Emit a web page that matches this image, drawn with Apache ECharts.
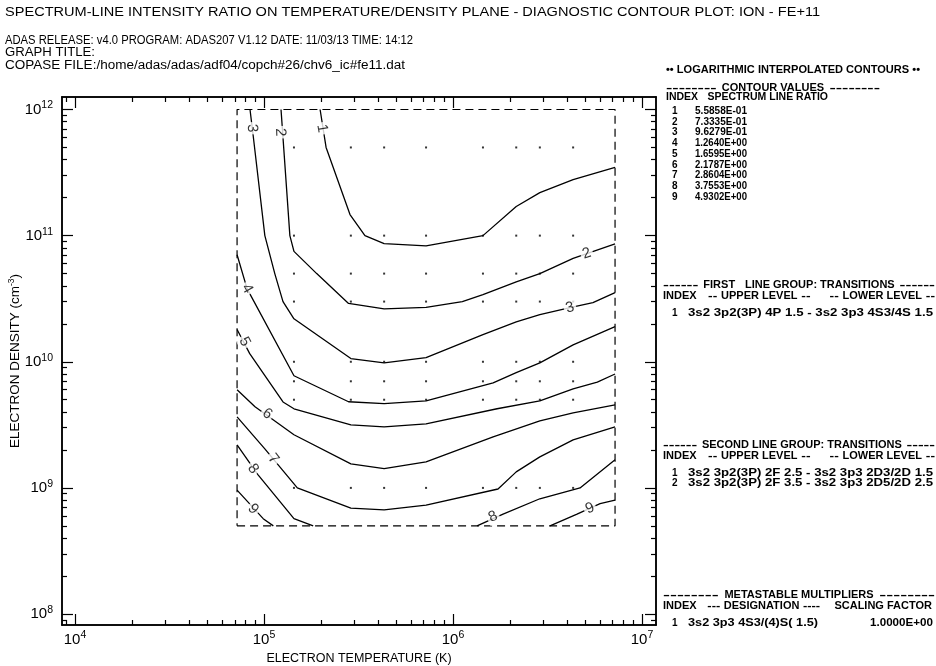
<!DOCTYPE html>
<html>
<head>
<meta charset="utf-8">
<title>ADAS207 contour plot</title>
<script src="https://cdn.jsdelivr.net/npm/echarts@6/dist/echarts.min.js"></script>
<style>
  html, body { margin: 0; padding: 0; background: #fff; }
  #chart { width: 936px; height: 666px; }
</style>
</head>
<body>
<div id="chart"></div>
<script>
// temperature (K) and density (cm-3) grid of the calculation
var tempGrid = [7.2e4, 1.44e5, 2.88e5, 4.32e5, 7.2e5, 1.44e6, 2.16e6, 2.88e6, 4.32e6, 7.2e6];
var densGrid = [5e8, 1e9, 5e9, 7e9, 1e10, 3e10, 5e10, 1e11, 5e11, 1e12];

// axis decades (exponents) and minor tick multipliers
var xTickExp = [4, 5, 6, 7];
var yTickExp = [8, 9, 10, 11, 12];
var minorMult = [2, 3, 4, 5, 6, 7, 8, 9];

// contour lines, [Te, Ne] pairs; some levels come in pieces
var contour1 = [[[1.98e5, 1e12], [2.13e5, 5e11], [2.85e5, 1.47e11], [3.42e5, 1e11], [4.32e5, 8.65e10], [7.2e5, 8.3e10],
  [1.44e6, 1e11], [2.16e6, 1.7e11], [2.88e6, 2.19e11], [4.32e6, 2.78e11], [7.2e6, 3.47e11]]];
var contour2 = [[[1.23e5, 1e12], [1.37e5, 1e11], [1.44e5, 7.5e10], [1.9e5, 5e10], [2.8e5, 2.9e10], [4.32e5, 2.63e10],
  [7.2e5, 2.7e10], [1.12e6, 3e10], [1.44e6, 3.4e10], [2.16e6, 4.3e10], [2.88e6, 5e10], [4.32e6, 6.6e10], [7.2e6, 8.6e10]]];
var contour3 = [[[8.43e4, 1e12], [8.75e4, 6.3e11], [1.01e5, 1e11], [1.14e5, 5e10], [1.26e5, 3e10], [1.44e5, 2.19e10],
  [2.88e5, 1.06e10], [4.32e5, 9.8e9], [7.2e5, 1.08e10], [1.44e6, 1.64e10], [2.16e6, 2.07e10], [2.88e6, 2.36e10],
  [4.16e6, 2.69e10], [5.5e6, 2.94e10], [7.2e6, 3.53e10]]];
var contour4 = [[[7.2e4, 7.06e10], [8.13e4, 3.8e10], [1.44e5, 7.75e9], [2.8e5, 4.82e9], [4.32e5, 4.65e9], [7.2e5, 4.9e9],
  [1.63e6, 6.8e9], [2.16e6, 8.2e9], [2.88e6, 9.8e9], [4.32e6, 1.36e10], [7.2e6, 1.9e10]]];
var contour5 = [[[7.2e4, 1.8e10], [8.4e4, 1.16e10], [1.26e5, 4.8e9], [1.44e5, 4.24e9], [2.88e5, 3.16e9], [4.32e5, 3.05e9],
  [7.2e5, 3.22e9], [1.71e6, 4.24e9], [2.88e6, 4.9e9], [4.32e6, 6.1e9], [5.8e6, 6.9e9], [7.2e6, 8.0e9]]];
var contour6 = [[[7.2e4, 6.0e9], [8.96e4, 4.4e9], [1.44e5, 2.64e9], [2.88e5, 1.55e9], [4.32e5, 1.42e9], [7.2e5, 1.61e9],
  [1.63e6, 2.54e9], [2.88e6, 3.4e9], [4.32e6, 3.94e9], [7.2e6, 4.56e9]]];
var contour7 = [[[7.2e4, 3.66e9], [1.01e5, 2.04e9], [1.5e5, 1e9], [2.88e5, 6.9e8], [4.32e5, 6.7e8], [7.2e5, 7.3e8],
  [1.73e6, 9.8e8], [2.16e6, 1.34e9], [2.88e6, 1.76e9], [4.32e6, 2.4e9], [7.2e6, 3.05e9]]];
var contour8 = [[[7.2e4, 2.19e9], [9.3e4, 1.27e9], [1.44e5, 5.7e8], [1.82e5, 5e8]],
  [[1.34e6, 5e8], [1.84e6, 6.2e8], [2.88e6, 8.2e8], [4.7e6, 1e9], [7.2e6, 1.67e9]]];
var contour9 = [[[7.2e4, 9.6e8], [9.9e4, 5.7e8], [1.12e5, 5e8]],
  [[3.26e6, 5e8], [4.53e6, 6.2e8], [6.0e6, 7.5e8], [7.2e6, 8.0e8]]];
var contours = [contour1, contour2, contour3, contour4, contour5, contour6, contour7, contour8, contour9];

// contour level labels: [Te, Ne, level]
var levelLabels = [[2.03e5, 7.07e11, '1'], [1.22e5, 6.6e11, '2'], [8.65e4, 7.1e11, '3'], [5.1e6, 7.2e10, '2'],
  [4.16e6, 2.69e10, '3'], [8.13e4, 3.8e10, '4'], [7.9e4, 1.44e10, '5'], [1.04e5, 3.87e9, '6'], [1.12e5, 1.7e9, '7'],
  [8.75e4, 1.42e9, '8'], [8.75e4, 6.8e8, '9'], [1.63e6, 5.9e8, '8'], [5.3e6, 6.9e8, '9']];
var labelAngles = [-80, -88, -87, 18, 15, -61, -62, -36, -51, -55, -48, 25, 23];

// right-hand panel tables
var contourValues = ['5.5858E-01', '7.3335E-01', '9.6279E-01', '1.2640E+00', '1.6595E+00',
  '2.1787E+00', '2.8604E+00', '3.7553E+00', '4.9302E+00'];
var firstGroup = ['3s2 3p2(3P) 4P 1.5 - 3s2 3p3 4S3/4S 1.5'];
var secondGroup = ['3s2 3p2(3P) 2F 2.5 - 3s2 3p3 2D3/2D 1.5', '3s2 3p2(3P) 2F 3.5 - 3s2 3p3 2D5/2D 2.5'];
var metastables = [['3s2 3p3 4S3/(4)S( 1.5)', '1.0000E+00']];

var L = Math.log10;
var xMin = 3.931, xMax = 7.074, yMin = 7.913, yMax = 12.099;

function minorTicks(exps, lo, hi) {
  var out = [];
  for (var e = exps[0] - 1; e <= exps[exps.length - 1]; e++) {
    minorMult.forEach(function (m) {
      var v = L(m) + e;
      if (v > lo && v < hi) out.push(v);
    });
  }
  return out;
}
var xMinor = minorTicks(xTickExp, xMin, xMax);
var yMinor = minorTicks(yTickExp, yMin, yMax);

var FONT = 'Liberation Sans';
var black = '#000';
var powRich = {
  b: { fontSize: 15, fontFamily: FONT, color: black, lineHeight: 19 },
  s: { fontSize: 10.5, fontFamily: FONT, color: black, lineHeight: 11, verticalAlign: 'top' }
};

function axis(kind, gi, pos, min, max, ticks, len, withLabels) {
  var a = {
    type: 'value', gridIndex: gi, position: pos, min: min, max: max,
    axisLine: { show: true, onZero: false, lineStyle: { color: black, width: 1.5 } },
    axisTick: { show: true, inside: true, length: len, customValues: ticks, lineStyle: { color: black, width: 1.2 } },
    axisLabel: { show: false },
    splitLine: { show: false }
  };
  if (withLabels) {
    a.axisLabel = {
      show: true, customValues: ticks, margin: kind === 'x' ? 5 : 9,
      formatter: function (v) { return '{b|10}{s|' + Math.round(v) + '}'; },
      rich: powRich
    };
  }
  return a;
}

// four overlaid grids: major/minor ticks on bottom-left and top-right
var grids = [];
for (var g = 0; g < 4; g++) {
  grids.push({ left: 62, right: 280, top: 97, bottom: 41, containLabel: false, outerBoundsMode: 'none' });
}

var xAxes = [
  axis('x', 0, 'bottom', xMin, xMax, xTickExp, 11, true),
  axis('x', 1, 'bottom', xMin, xMax, xMinor, 5, false),
  axis('x', 2, 'top', xMin, xMax, xTickExp, 11, false),
  axis('x', 3, 'top', xMin, xMax, xMinor, 5, false)
];
var yAxes = [
  axis('y', 0, 'left', yMin, yMax, yTickExp, 11, true),
  axis('y', 1, 'left', yMin, yMax, yMinor, 5, false),
  axis('y', 2, 'right', yMin, yMax, yTickExp, 11, false),
  axis('y', 3, 'right', yMin, yMax, yMinor, 5, false)
];
xAxes[0].name = 'ELECTRON TEMPERATURE (K)';
xAxes[0].nameLocation = 'middle';
xAxes[0].nameGap = 27;
xAxes[0].nameMoveOverlap = false;
xAxes[0].nameTextStyle = { fontFamily: FONT, fontSize: 12.5, color: black };
yAxes[0].name = '{t|ELECTRON DENSITY (cm}{u|-3}{t|)}';
yAxes[0].nameLocation = 'middle';
yAxes[0].nameGap = 38;
yAxes[0].nameMoveOverlap = false;
yAxes[0].nameTextStyle = {
  rich: {
    t: { fontFamily: FONT, fontSize: 13.5, color: black, lineHeight: 17 },
    u: { fontFamily: FONT, fontSize: 8.5, color: black, lineHeight: 9, verticalAlign: 'top' }
  }
};

function toLog(p) { return [L(p[0]), L(p[1])]; }

var series = [];

// dashed outline of the calculated grid
var tLo = tempGrid[0], tHi = tempGrid[tempGrid.length - 1];
var nLo = densGrid[0], nHi = densGrid[densGrid.length - 1];
series.push({
  type: 'line', silent: true, symbol: 'none',
  data: [[tLo, nLo], [tHi, nLo], [tHi, nHi], [tLo, nHi], [tLo, nLo]].map(toLog),
  lineStyle: { color: black, width: 1.2, type: [8, 5] }
});

// interior grid points
var dots = [];
tempGrid.slice(1, -1).forEach(function (t) {
  densGrid.slice(1, -1).forEach(function (n) { dots.push([L(t), L(n)]); });
});
series.push({
  type: 'scatter', silent: true, symbol: 'rect', symbolSize: 2,
  itemStyle: { color: black }, data: dots
});

contours.forEach(function (c) {
  c.forEach(function (piece) {
    series.push({
      type: 'line', silent: true, symbol: 'none',
      data: piece.map(toLog),
      lineStyle: { color: black, width: 1.3 }
    });
  });
});

series.push({
  type: 'scatter', silent: true, symbolSize: 0, z: 5,
  data: levelLabels.map(function (d, i) {
    return { value: [L(d[0]), L(d[1])], name: d[2], label: { rotate: labelAngles[i] } };
  }),
  label: {
    show: true, position: 'inside', formatter: '{b}',
    fontFamily: FONT, fontSize: 15, color: black,
    backgroundColor: '#fff', padding: [0, 2]
  }
});

// header and right panel text, each line stretched to the width it takes in the original
var measure = document.createElement('canvas').getContext('2d');
var txt = [];
function fontOf(size, weight) { return (weight || 'normal') + ' ' + size + 'px "' + FONT + '"'; }
function textWidth(s, font) { measure.font = font; return measure.measureText(s).width; }
function put(x, y, s, font, sx) {
  txt.push({
    type: 'text', x: x, y: y, scaleX: sx, silent: true,
    style: { text: s, x: 0, y: 0, fill: black, font: font, textVerticalAlign: 'middle' }
  });
}
function T(x, y, s, size, weight, width) {
  var font = fontOf(size, weight);
  put(x, y, s, font, width ? width / textWidth(s, font) : 1);
}
// a line whose runs of dashes/spaces stretch while the words keep a fixed stretch
function H(x, y, s, size, weight, width, wordSx) {
  var font = fontOf(size, weight);
  wordSx = wordSx || 1.1;
  var parts = s.match(/[- ]+|[^- ]+(?: [^- ]+)*/g);
  var fixed = 0, flex = 0;
  parts.forEach(function (p) {
    var w = textWidth(p, font);
    if (/^[- ]+$/.test(p)) flex += w; else fixed += w * wordSx;
  });
  var flexSx = (width - fixed) / flex;
  parts.forEach(function (p) {
    var sx = /^[- ]+$/.test(p) ? flexSx : wordSx;
    put(x, y, p, font, sx);
    x += textWidth(p, font) * sx;
  });
}

T(5, 13, 'SPECTRUM-LINE INTENSITY RATIO ON TEMPERATURE/DENSITY PLANE - DIAGNOSTIC CONTOUR PLOT: ION - FE+11', 12.5, null, 815);
T(5, 41, 'ADAS RELEASE: v4.0 PROGRAM: ADAS207 V1.12 DATE: 11/03/13 TIME: 14:12', 12.5, null, 408);
T(5, 53, 'GRAPH TITLE:', 12.5, null, 90);
T(5, 66, 'COPASE FILE:/home/adas/adas/adf04/copch#26/chv6_ic#fe11.dat', 12.5, null, 400);

var P = 10, PB = 'bold';
T(666, 70, '\u2022\u2022 LOGARITHMIC INTERPOLATED CONTOURS \u2022\u2022', P, PB, 254);
H(666, 88, '-------- CONTOUR VALUES --------', P, PB, 214);
H(666, 97, 'INDEX    SPECTRUM LINE RATIO', P, PB, 162, 1.05);
contourValues.forEach(function (v, i) {
  T(672, 111 + i * 10.75, String(i + 1), P, PB);
  T(695, 111 + i * 10.75, v, P, PB, 52);
});
H(663, 285, '------ FIRST  LINE GROUP: TRANSITIONS ------', P, PB, 272);
H(663, 296, 'INDEX   -- UPPER LEVEL --     -- LOWER LEVEL --', P, PB, 272);
firstGroup.forEach(function (v, i) {
  T(672, 313 + i * 10, String(i + 1), P, PB);
  T(688, 313 + i * 10, v, P, PB, 245);
});
H(663, 445, '------ SECOND LINE GROUP: TRANSITIONS -----', P, PB, 272);
H(663, 456, 'INDEX   -- UPPER LEVEL --     -- LOWER LEVEL --', P, PB, 272);
secondGroup.forEach(function (v, i) {
  T(672, 473 + i * 10, String(i + 1), P, PB);
  T(688, 473 + i * 10, v, P, PB, 245);
});
H(663, 595, '-------- METASTABLE MULTIPLIERS --------', P, PB, 272);
H(663, 606, 'INDEX   --- DESIGNATION ----    SCALING FACTOR', P, PB, 269);
metastables.forEach(function (v, i) {
  T(672, 623 + i * 10, String(i + 1), P, PB);
  T(688, 623 + i * 10, v[0], P, PB, 130);
  T(870, 623 + i * 10, v[1], P, PB, 63);
});

var chart = echarts.init(document.getElementById('chart'));
chart.setOption({
  animation: false,
  backgroundColor: '#fff',
  grid: grids,
  xAxis: xAxes,
  yAxis: yAxes,
  series: series,
  graphic: txt
});
</script>
</body>
</html>
